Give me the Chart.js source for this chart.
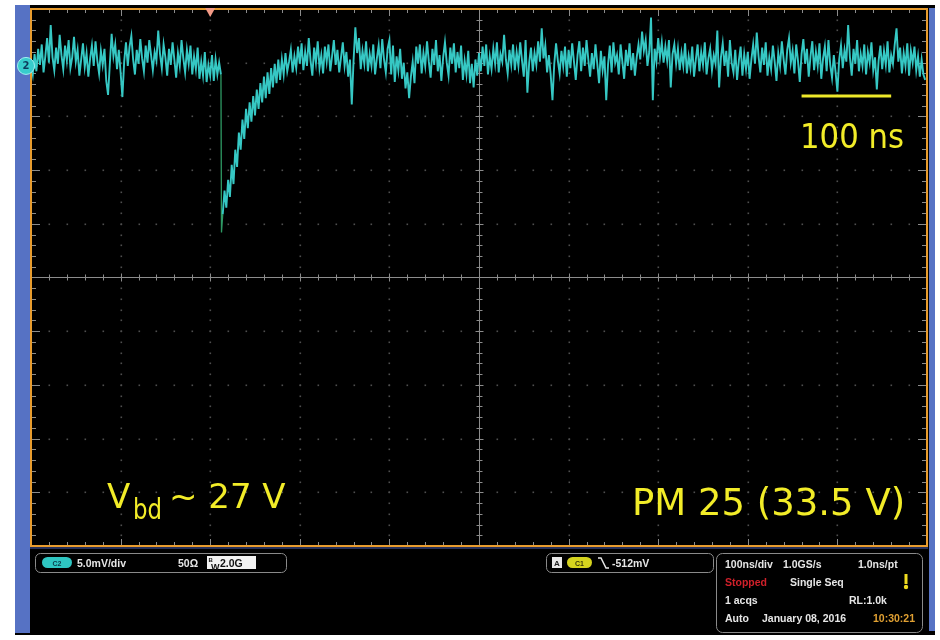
<!DOCTYPE html>
<html>
<head>
<meta charset="utf-8">
<title>Channel 2 – single sequence</title>
<script src="https://cdn.jsdelivr.net/npm/chart.js@4.4.1/dist/chart.umd.min.js"></script>
<style>
  html, body { margin: 0; padding: 0; background: #ffffff; }
  canvas { display: block; }
</style>
</head>
<body>
<canvas id="scope" width="940" height="640"></canvas>
<script>
// ---- Acquired record, channel 2 (mV), one sample every 2 ns from 0 ns ----
const sampleStartNs = 0;
const sampleStepNs = 2;
const ch2Mv = [
  // 0 - 98 ns
  0.2, -0.8, 1.1, -0.5, 1.6, 0.1, 2.0, -0.6, 0.9, 2.6,
  0.3, 3.8, 0.8, -0.4, 1.7, 0.2, 2.9, 1.0, -0.3, 1.9,
  0.5, 2.4, -0.2, 0.8, 2.7, 0.4, 1.5, -0.9, 0.6, 2.1,
  -0.1, 1.2, -1.0, 0.7, 1.9, 0.0, 2.3, 0.5, -0.7, 1.4,
  0.1, 1.6, -1.4, -2.7, 0.2, 3.0, 0.9, 2.0, -0.3, 1.5,
  // 100 - 198 ns
  -0.6, -2.9, 0.4, 2.2, 0.0, 1.8, 2.8, 0.6, -0.8, 1.5,
  0.2, 2.5, 0.7, -0.5, 1.9, 0.3, 2.4, 1.0, -0.4, 1.3,
  0.5, 3.3, 1.1, -0.2, 2.0, 0.8, -0.9, 1.6, 0.1, 2.2,
  0.6, -1.1, 1.2, 0.0, 2.4, 0.7, -0.6, 1.5, 0.2, 1.9,
  -0.8, 0.9, -0.3, 1.7, -1.2, 0.4, -0.9, 1.3, -1.5, 0.1,
  // 200 - 298 ns (avalanche pulse and recovery)
  -0.9, 1.0, -1.4, 0.6, -0.8, 0.3, -0.8, -13.8, -11.6, -13.2,
  -10.6, -12.2, -9.2, -11.0, -7.8, -9.4, -6.2, -7.8, -5.0, -6.8,
  -4.0, -5.8, -3.4, -5.2, -2.8, -4.6, -2.2, -4.0, -1.6, -3.4,
  -1.0, -3.0, -0.6, -2.6, -0.2, -2.0, 0.2, -1.6, 0.6, -1.3,
  0.6, -0.8, 1.2, -0.5, 0.4, 1.5, -0.6, 0.9, -0.2, 1.8,
  // 300 - 398 ns
  0.2, 2.1, -0.4, 1.3, 0.0, 2.6, 0.5, -0.9, 1.7, 0.3,
  2.3, -0.2, 1.0, -0.7, 1.8, 0.4, 2.0, -0.5, 0.9, 2.4,
  0.1, 1.5, -0.6, 0.8, 2.2, 0.0, 1.3, -1.0, 0.6, -3.6,
  0.5, 3.6, 1.2, 2.6, -0.3, 1.4, 0.2, 2.3, -0.5, 1.1,
  0.0, 2.0, -0.8, 0.7, 1.9, -0.2, 2.5, 0.6, -0.6, 1.6,
  // 400 - 498 ns
  2.4, -0.8, 1.9, -1.5, 0.9, -0.4, 1.6, -1.2, 0.3, -2.1,
  -0.6, -3.0, -1.0, 0.4, -1.6, 1.8, 0.2, 2.0, -0.7, 1.2,
  0.0, 2.3, 0.4, -1.1, 1.6, 0.1, 2.4, -0.5, 1.0, -1.4,
  0.8, 2.2, 0.3, -0.9, 1.7, 0.2, 2.1, -0.6, 1.3, -0.2,
  1.9, -1.3, 0.5, -0.8, 1.4, -1.6, 0.2, -2.0, 0.6, -0.9,
  // 500 - 598 ns
  1.2, -0.5, 1.8, 0.0, 2.0, -0.8, 0.9, -0.3, 1.6, 0.2,
  2.2, -0.6, 1.1, 0.4, 2.9, 0.6, -0.7, 1.5, 0.1, 2.0,
  -0.4, 1.3, 0.0, 2.2, 0.5, -1.0, 2.4, -2.5, 0.3, 1.7,
  -0.5, 1.2, 0.1, 2.3, 0.4, 3.5, 0.7, 1.9, -0.6, 1.0,
  -0.8, -3.2, 0.2, 2.1, 0.5, -0.7, 1.4, 0.0, 1.8, -1.0,
  // 600 - 698 ns
  1.5, -0.2, 2.1, 0.4, -1.3, 1.0, 2.3, -0.5, 1.7, 0.0,
  2.4, 0.6, -1.0, 1.2, -0.3, 2.0, 0.2, -1.6, 1.4, -0.4,
  0.9, -3.2, 0.1, 1.9, -0.6, 2.2, 0.3, 1.0, -0.8, 2.0,
  0.4, -1.2, 1.5, 0.0, 2.1, -0.4, 1.2, -0.9, 0.8, 2.0,
  0.6, 3.2, 1.4, 2.4, 0.0, 1.3, 4.5, -3.2, 1.6, 0.4,
  // 700 - 798 ns
  2.6, 0.8, 2.2, 0.3, 1.8, 0.5, 2.4, -2.0, 1.1, 2.0,
  0.2, 1.6, -0.4, 1.2, 0.0, 2.1, -0.7, 0.9, -0.2, 1.8,
  -1.0, 0.6, 2.0, -0.5, 1.3, 0.1, 2.2, -0.8, 0.7, 1.6,
  -0.4, 1.0, 0.2, 3.3, -2.0, 0.8, 2.1, 0.0, 1.4, -1.0,
  2.4, 0.3, -0.6, 1.5, -1.3, 0.5, 1.8, -0.9, 1.1, -0.3,
  // 800 - 898 ns
  1.3, -1.2, 0.6, 2.0, 0.2, 3.1, 0.9, -0.6, 1.7, 0.1,
  2.2, -0.9, 0.8, -0.3, 1.9, 0.4, -1.4, 1.2, 0.0, 2.3,
  0.6, -0.8, 1.5, 2.6, 0.3, 1.4, -0.7, 2.0, 0.5, -1.5,
  1.1, 2.5, 0.2, 1.6, -1.0, 0.9, 2.3, -0.4, 1.3, 0.0,
  2.1, -1.2, 0.7, 1.8, -0.5, 2.4, 0.1, -1.1, 1.0, -0.6,
  // 900 - 998 ns
  -2.4, 0.6, 1.9, -0.2, 1.5, 0.4, 3.8, 0.8, -0.9, 1.6,
  0.2, 2.4, -0.5, 1.1, 0.0, 2.0, -0.8, 1.3, 0.3, 2.2,
  -0.4, 0.8, -2.2, 0.5, 1.9, -0.3, 1.4, 0.1, 2.3, -0.6,
  1.0, 0.2, 2.0, 3.5, 0.4, 1.7, -0.7, 1.2, 0.0, 2.1,
  -0.9, 1.4, 0.3, 1.8, -0.4, 0.9, -1.0, 0.6, -0.8, -1.3
];

// Fast leading edge of the pulse, drawn as a separate dim stroke
const edgeNs = [212, 212.6, 214];
const edgeMv = [-0.8, -15.5, -13.8];

// 100 ns scale bar
const scaleBarNs = [860, 960];
const scaleBarMv = [-2.8, -2.8];

// Graticule: 10 x 10 divisions, 100 ns/div and 5 mV/div
const timeDivNs = [0, 100, 200, 300, 400, 500, 600, 700, 800, 900, 1000];
const voltDivMv = [5.3, 0.3, -4.7, -9.7, -14.7, -19.7, -24.7, -29.7, -34.7, -39.7, -44.7];
const minorPerDiv = 5;
const triggerNs = 200;
const groundMv = 0;

// Screen annotations
const scaleLabel = '100 ns';
const vbdMain = 'V';
const vbdSub = 'bd';
const vbdValue = '~ 27 V';
const pmLabel = 'PM 25 (33.5 V)';

// Readout panel
const ch2Readout = ['C2', '5.0mV/div', '50Ω', '2.0G'];
const trigReadout = ['A', 'C1', '-512mV'];
const timebaseRows = [
  ['100ns/div', '1.0GS/s', '1.0ns/pt'],
  ['Stopped', 'Single Seq'],
  ['1 acqs', 'RL:1.0k'],
  ['Auto', 'January 08, 2016', '10:30:21']
];

const tracePoints = ch2Mv.map((v, i) => ({ x: sampleStartNs + i * sampleStepNs, y: v }));
const edgePoints = edgeNs.map((t, i) => ({ x: t, y: edgeMv[i] }));
const barPoints = scaleBarNs.map((t, i) => ({ x: t, y: scaleBarMv[i] }));

function minorValues(divs) {
  const out = [];
  for (let i = 0; i < divs.length - 1; i++) {
    for (let k = 0; k < minorPerDiv; k++) {
      out.push({ v: divs[i] + (divs[i + 1] - divs[i]) * k / minorPerDiv, major: k === 0 });
    }
  }
  out.push({ v: divs[divs.length - 1], major: true });
  return out;
}

function rrect(ctx, x, y, w, h, r) {
  ctx.beginPath();
  ctx.moveTo(x + r, y);
  ctx.lineTo(x + w - r, y);
  ctx.arcTo(x + w, y, x + w, y + r, r);
  ctx.lineTo(x + w, y + h - r);
  ctx.arcTo(x + w, y + h, x + w - r, y + h, r);
  ctx.lineTo(x + r, y + h);
  ctx.arcTo(x, y + h, x, y + h - r, r);
  ctx.lineTo(x, y + r);
  ctx.arcTo(x, y, x + r, y, r);
  ctx.closePath();
}

const scopeScreen = {
  id: 'scopeScreen',
  beforeDraw(chart) {
    const { ctx, chartArea: a, scales: { x, y } } = chart;
    const px = v => x.getPixelForValue(v);
    const py = v => y.getPixelForValue(v);
    ctx.save();
    // bezel and screen
    ctx.fillStyle = '#ffffff';
    ctx.fillRect(0, 0, chart.width, chart.height);
    ctx.fillStyle = '#000000';
    ctx.fillRect(15, 5, 920, 630);
    ctx.fillStyle = '#5672c4';
    ctx.fillRect(15, 5, 15, 628);
    ctx.fillRect(929, 8, 6, 623);

    const tMin = minorValues(timeDivNs);
    const vMin = minorValues(voltDivMv);

    // dotted division lines
    ctx.fillStyle = '#4e4e4e';
    for (let i = 1; i < timeDivNs.length - 1; i++) {
      if (i === 5) continue;
      const xx = Math.round(px(timeDivNs[i]));
      vMin.forEach(m => ctx.fillRect(xx - 0.5, Math.round(py(m.v)) - 0.5, 1.6, 1.6));
    }
    for (let j = 1; j < voltDivMv.length - 1; j++) {
      if (j === 5) continue;
      const yy = Math.round(py(voltDivMv[j]));
      tMin.forEach(m => ctx.fillRect(Math.round(px(m.v)) - 0.5, yy - 0.5, 1.6, 1.6));
    }

    // centre crosshair with minor ticks
    ctx.strokeStyle = '#8c8c8c';
    ctx.lineWidth = 1;
    const cx = Math.round(px(timeDivNs[5])) + 0.5;
    const cy = Math.round(py(voltDivMv[5])) + 0.5;
    ctx.beginPath();
    ctx.moveTo(cx, a.top); ctx.lineTo(cx, a.bottom);
    ctx.moveTo(a.left, cy); ctx.lineTo(a.right, cy);
    tMin.forEach(m => {
      const xx = Math.round(px(m.v)) + 0.5;
      const l = m.major ? 4 : 3;
      ctx.moveTo(xx, cy - l); ctx.lineTo(xx, cy + l);
      // top and bottom edges
      const e = m.major ? 7 : 4;
      ctx.moveTo(xx, a.top); ctx.lineTo(xx, a.top + e);
      ctx.moveTo(xx, a.bottom); ctx.lineTo(xx, a.bottom - e);
    });
    vMin.forEach(m => {
      const yy = Math.round(py(m.v)) + 0.5;
      const l = m.major ? 4 : 3;
      ctx.moveTo(cx - l, yy); ctx.lineTo(cx + l, yy);
      const e = m.major ? 9 : 5;
      ctx.moveTo(a.left, yy); ctx.lineTo(a.left + e, yy);
      ctx.moveTo(a.right, yy); ctx.lineTo(a.right - e, yy);
    });
    ctx.stroke();
    ctx.restore();
  },
  afterDraw(chart) {
    const { ctx, chartArea: a, scales: { x, y } } = chart;
    const px = v => x.getPixelForValue(v);
    const py = v => y.getPixelForValue(v);
    ctx.save();

    // orange screen frame
    ctx.strokeStyle = '#e89c2e';
    ctx.lineWidth = 2;
    ctx.strokeRect(a.left, a.top, a.right - a.left, a.bottom - a.top);
    ctx.fillStyle = '#26305a';
    ctx.fillRect(a.left - 1, a.bottom + 1, a.right - a.left + 2, 2);

    // trigger position marker
    const tx = px(triggerNs);
    ctx.fillStyle = '#f39a86';
    ctx.beginPath();
    ctx.moveTo(tx - 5, a.top - 1);
    ctx.lineTo(tx + 5, a.top - 1);
    ctx.lineTo(tx, a.top + 8);
    ctx.closePath();
    ctx.fill();

    // channel 2 ground marker
    const gy = py(groundMv);
    ctx.fillStyle = '#38cccc';
    ctx.beginPath();
    ctx.moveTo(31, gy - 5);
    ctx.lineTo(38, gy);
    ctx.lineTo(31, gy + 5);
    ctx.closePath();
    ctx.fill();
    ctx.beginPath();
    ctx.arc(26, gy, 8.5, 0, Math.PI * 2);
    ctx.fill();
    ctx.strokeStyle = '#9ff0f0';
    ctx.lineWidth = 1;
    ctx.stroke();
    ctx.fillStyle = '#0d3a5c';
    ctx.font = 'bold 10px "DejaVu Sans", sans-serif';
    ctx.textAlign = 'center';
    ctx.textBaseline = 'middle';
    ctx.fillText('2', 26, gy + 0.5);

    // yellow annotations
    ctx.fillStyle = '#f2ec28';
    ctx.textAlign = 'left';
    ctx.textBaseline = 'alphabetic';
    ctx.font = '34px "DejaVu Sans", sans-serif';
    ctx.fillText(scaleLabel, 800, 148, 104);
    ctx.font = '34px "DejaVu Sans", sans-serif';
    ctx.fillText(vbdMain, 107, 508, 30);
    ctx.font = '28px "DejaVu Sans", sans-serif';
    ctx.fillText(vbdSub, 133, 519, 29);
    ctx.font = '34px "DejaVu Sans", sans-serif';
    ctx.fillText(vbdValue, 169, 508, 121);
    ctx.font = '37px "DejaVu Sans", sans-serif';
    ctx.fillText(pmLabel, 632, 515, 274);

    // ---- readout panel ----
    const f = 'bold 10.5px "Liberation Sans", Arial, sans-serif';
    ctx.lineWidth = 1;
    ctx.strokeStyle = '#8a8a8a';

    // channel readout
    rrect(ctx, 35.5, 553.5, 251, 19, 5); ctx.stroke();
    ctx.fillStyle = '#2ec6c2';
    rrect(ctx, 42, 557, 30, 11, 5.5); ctx.fill();
    ctx.fillStyle = '#0b3b4a';
    ctx.font = 'bold 7px "Liberation Sans", Arial, sans-serif';
    ctx.textAlign = 'center';
    ctx.fillText(ch2Readout[0], 57, 565.5);
    ctx.textAlign = 'left';
    ctx.fillStyle = '#e6e6e6';
    ctx.font = f;
    ctx.fillText(ch2Readout[1], 77, 567);
    ctx.fillText(ch2Readout[2], 178, 567);
    ctx.fillStyle = '#f2f2f2';
    ctx.fillRect(207, 556, 49, 13);
    ctx.fillStyle = '#111111';
    ctx.font = 'bold 6px "Liberation Sans", Arial, sans-serif';
    ctx.fillText('B', 208.5, 562);
    ctx.font = 'bold 9px "Liberation Sans", Arial, sans-serif';
    ctx.fillText('W', 211, 570);
    ctx.font = f;
    ctx.fillText(ch2Readout[3], 220, 567);

    // trigger readout
    ctx.strokeStyle = '#8a8a8a';
    rrect(ctx, 546.5, 553.5, 167, 19, 5); ctx.stroke();
    ctx.fillStyle = '#e8e8e8';
    ctx.fillRect(552, 557, 10, 11);
    ctx.fillStyle = '#222222';
    ctx.font = 'bold 8px "Liberation Sans", Arial, sans-serif';
    ctx.textAlign = 'center';
    ctx.fillText(trigReadout[0], 557, 566);
    ctx.fillStyle = '#d6d41e';
    rrect(ctx, 567, 557, 25, 11, 5.5); ctx.fill();
    ctx.fillStyle = '#3a3a08';
    ctx.font = 'bold 7px "Liberation Sans", Arial, sans-serif';
    ctx.fillText(trigReadout[1], 579.5, 565.5);
    ctx.textAlign = 'left';
    ctx.strokeStyle = '#e6e6e6';
    ctx.lineWidth = 1.5;
    ctx.beginPath();
    ctx.moveTo(598, 558); ctx.lineTo(601, 558); ctx.lineTo(606, 568); ctx.lineTo(609, 568);
    ctx.stroke();
    ctx.lineWidth = 1;
    ctx.fillStyle = '#e6e6e6';
    ctx.font = f;
    ctx.fillText(trigReadout[2], 612, 567);

    // timebase / acquisition readout
    ctx.strokeStyle = '#8a8a8a';
    rrect(ctx, 716.5, 553.5, 206, 79, 6); ctx.stroke();
    ctx.font = f;
    ctx.fillStyle = '#e6e6e6';
    ctx.fillText(timebaseRows[0][0], 725, 568);
    ctx.fillText(timebaseRows[0][1], 783, 568);
    ctx.fillText(timebaseRows[0][2], 858, 568);
    ctx.fillStyle = '#d0202a';
    ctx.fillText(timebaseRows[1][0], 725, 586);
    ctx.fillStyle = '#e6e6e6';
    ctx.fillText(timebaseRows[1][1], 790, 586);
    ctx.fillText(timebaseRows[2][0], 725, 604);
    ctx.fillText(timebaseRows[2][1], 849, 604);
    ctx.fillText(timebaseRows[3][0], 725, 622);
    ctx.fillText(timebaseRows[3][1], 762, 622);
    ctx.fillStyle = '#e0a032';
    ctx.fillText(timebaseRows[3][2], 873, 622);
    // acquisition status indicator
    ctx.fillStyle = '#f0dc20';
    ctx.fillRect(904.5, 574, 3, 10);
    ctx.beginPath();
    ctx.arc(906, 587, 2.2, 0, Math.PI * 2);
    ctx.fill();

    ctx.restore();
  }
};

new Chart(document.getElementById('scope'), {
  type: 'line',
  data: {
    datasets: [
      {
        label: 'C2',
        data: tracePoints,
        borderColor: '#36c8c4',
        borderWidth: 1.9,
        pointRadius: 0,
        tension: 0,
        segment: {
          borderColor: c => (c.p0.parsed.y - c.p1.parsed.y > 8 ? 'rgba(0,0,0,0)' : undefined)
        }
      },
      {
        label: 'edge',
        data: edgePoints,
        borderColor: '#2e9a64',
        borderWidth: 1.3,
        pointRadius: 0,
        tension: 0
      },
      {
        label: '100 ns',
        data: barPoints,
        borderColor: '#eee82a',
        borderWidth: 3,
        pointRadius: 0,
        tension: 0
      }
    ]
  },
  options: {
    responsive: false,
    animation: false,
    events: [],
    devicePixelRatio: 1,
    layout: { padding: { left: 31, top: 9, right: 13, bottom: 94 } },
    plugins: { legend: { display: false }, tooltip: { enabled: false } },
    scales: {
      x: { type: 'linear', min: 0, max: 1000, display: false },
      y: { type: 'linear', min: -44.7, max: 5.3, display: false }
    }
  },
  plugins: [scopeScreen]
});
</script>
</body>
</html>
